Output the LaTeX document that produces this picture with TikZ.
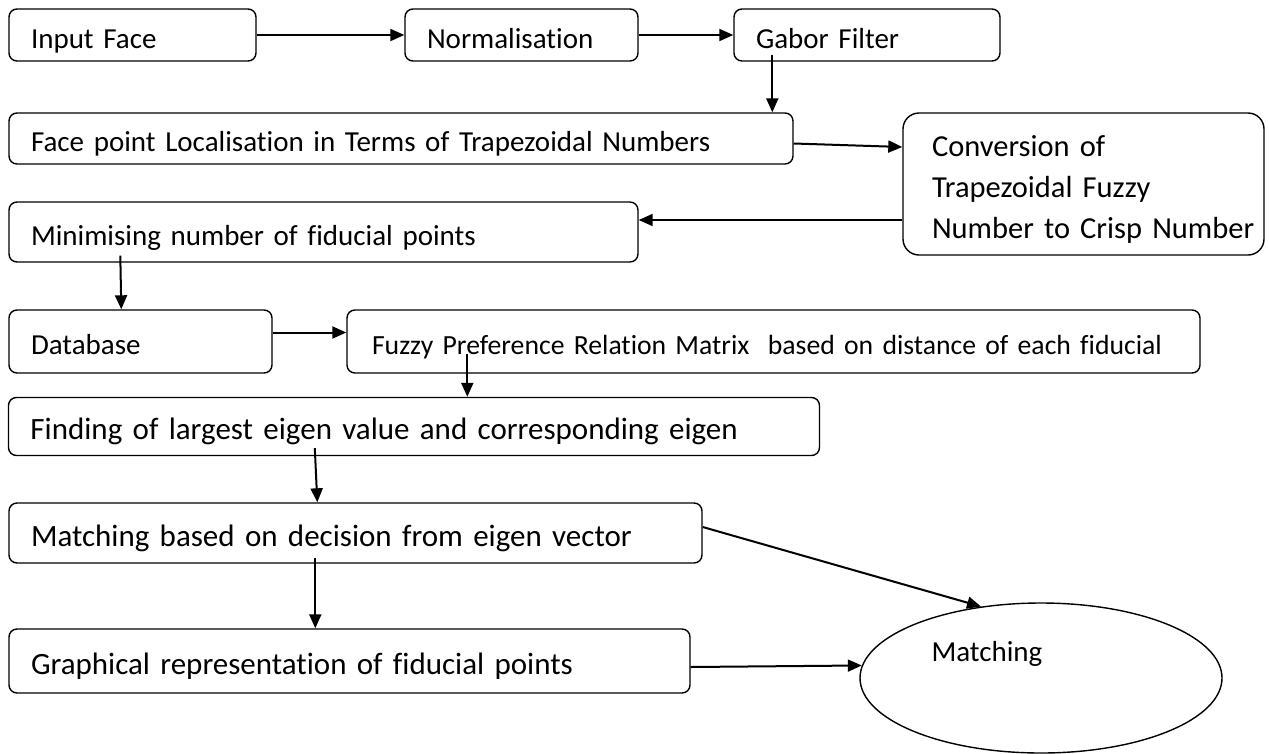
\documentclass[tikz,border=0pt]{standalone}
\usepackage{fontspec}
\setmainfont{Carlito}[Ligatures=CommonOff]
\usetikzlibrary{shapes.geometric, arrows.meta, positioning}

\begin{document}
\begin{tikzpicture}[x=1pt, y=-1pt,
    stage/.style={rectangle, draw, line width=1.4pt, rounded corners=8pt, inner xsep=22pt, inner ysep=0pt, align=left, text height=27pt, text depth=1pt, font=\fontsize{29}{35}\selectfont},
    bigstage/.style={stage, font=\fontsize{31}{37}\selectfont},
    flow/.style={draw, -{Triangle[length=14pt, width=12pt]}, line width=2pt}]
    \useasboundingbox (0,0) rectangle (1269,753);
    \node [stage, minimum width=247pt, minimum height=52pt, text width=203pt] (inface) at (132.5,35) {Input Face};
    \node [stage, minimum width=233pt, minimum height=52pt, text width=189pt] (norm) at (521.5,35) {Normalisation};
    \node [stage, minimum width=266pt, minimum height=52pt, text width=222pt] (gabor) at (867,35) {Gabor Filter};
    \node [stage, minimum width=784pt, minimum height=51pt, text width=740pt] (facept) at (401,138.5) {Face point Localisation in Terms of Trapezoidal Numbers};
    \node [stage, rounded corners=16pt, inner xsep=29pt, text height=, text depth=, minimum width=361pt, minimum height=142pt, text width=303pt, font=\fontsize{30.5}{41}\selectfont] (conv) at (1083.5,184) {\rule{0pt}{32pt}\mbox{Conversion of}\\\mbox{Trapezoidal Fuzzy}\\\mbox{Number to Crisp Number}};
    \node [stage, minimum width=629pt, minimum height=60pt, text width=585pt] (minim) at (323.5,232) {Minimising number of fiducial points};
    \node [stage, minimum width=263pt, minimum height=63pt, text width=219pt] (dbase) at (140.5,341.5) {Database};
    \node [stage, inner xsep=25pt, minimum width=853pt, minimum height=63pt, text width=803pt, font=\fontsize{27.7}{33}\selectfont] (fpr) at (773.5,341.5) {\mbox{Fuzzy Preference Relation Matrix \ based on distance of each fiducial}};
    \node [bigstage, minimum width=811pt, minimum height=58pt, text width=767pt] (eigen) at (414,426.5) {Finding of largest eigen value and corresponding eigen};
    \node [bigstage, minimum width=693pt, minimum height=60pt, text width=649pt] (decide) at (355.5,533) {Matching based on decision from eigen vector};
    \node [bigstage, minimum width=681pt, minimum height=64pt, text width=637pt] (graph) at (349.5,661) {Graphical representation of fiducial points};
    \node [ellipse, draw, line width=1.4pt, minimum width=362pt, minimum height=150pt, inner sep=0pt] (match) at (1041,678) {};
    \node [anchor=base west, font=\fontsize{29}{35}\selectfont] (matchtxt) at ([xshift=-113pt,yshift=17pt]match.center) {Matching};
    \path [flow] (inface) -- (norm);
    \path [flow] (norm) -- (gabor);
    \path [flow] ([xshift=39pt,yshift=7pt]gabor.south west) -- ([xshift=39pt]gabor.south west |- facept.north);
    \path [flow] ([yshift=-5pt]facept.east) -- ([yshift=37pt]conv.west);
    \path [flow] ([yshift=12pt]minim.east -| conv.west) -- ([yshift=12pt]minim.east);
    \path [flow] ([xshift=112pt,yshift=7pt]minim.south west) -- ([xshift=113pt]dbase.north west);
    \path [flow] ([yshift=9pt]dbase.east) -- ([yshift=9pt]fpr.west);
    \path [flow] ([xshift=121pt,yshift=20pt]fpr.south west) -- ([xshift=121pt]fpr.south west |- eigen.north);
    \path [flow] ([xshift=307pt,yshift=8pt]eigen.south west) -- ([xshift=309pt]decide.north west);
    \path [flow] ([xshift=307pt,yshift=6pt]decide.south west) -- ([xshift=307pt]graph.north west);
    \path [flow] ([yshift=6pt]decide.east) -- (match.130);
    \path [flow] ([yshift=-6pt]graph.east) -- (match.176);
\end{tikzpicture}
\end{document}
